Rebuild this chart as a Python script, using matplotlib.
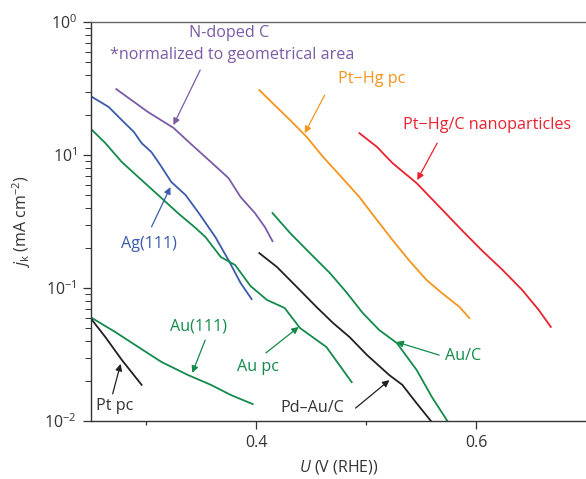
import numpy as np
import matplotlib
matplotlib.use('Agg')
import matplotlib.pyplot as plt
from matplotlib.ticker import FixedLocator, LogLocator, NullFormatter

plt.rcParams['font.family'] = ['Open Sans', 'DejaVu Sans']
plt.rcParams['mathtext.fontset'] = 'custom'
plt.rcParams['mathtext.rm'] = 'Open Sans'
plt.rcParams['mathtext.it'] = 'Open Sans:italic'

# potential U (V vs RHE) and kinetic current j_k (mA cm-2)
ndoped_u = [0.273, 0.302, 0.325, 0.339, 0.359, 0.375, 0.386, 0.399, 0.408, 0.415]
ndoped_j = [3.13, 2.10, 1.60, 1.25, 0.886, 0.671, 0.483, 0.366, 0.288, 0.225]

ag111_u = [0.251, 0.266, 0.278, 0.289, 0.296, 0.305, 0.313, 0.323, 0.336, 0.348, 0.363, 0.375, 0.386, 0.396]
ag111_j = [2.73, 2.30, 1.83, 1.49, 1.23, 1.05, 0.841, 0.627, 0.500, 0.366, 0.242, 0.162, 0.109, 0.0826]

aupc_u = [0.251, 0.263, 0.278, 0.296, 0.314, 0.329, 0.345, 0.354, 0.368, 0.381, 0.395, 0.410,
          0.426, 0.440, 0.464, 0.487]
aupc_j = [1.54, 1.23, 0.886, 0.648, 0.475, 0.366, 0.283, 0.242, 0.171, 0.149, 0.1035, 0.0813,
          0.0708, 0.050, 0.036, 0.0196]

au111_u = [0.251, 0.272, 0.293, 0.314, 0.338, 0.359, 0.377, 0.397]
au111_j = [0.0594, 0.0467, 0.036, 0.0278, 0.0222, 0.0187, 0.0157, 0.0134]

ptpc_u = [0.251, 0.263, 0.278, 0.296]
ptpc_j = [0.0574, 0.0428, 0.0288, 0.0187]

auc_u = [0.415, 0.431, 0.449, 0.467, 0.482, 0.497, 0.512, 0.528, 0.546, 0.560, 0.574]
auc_j = [0.366, 0.259, 0.183, 0.130, 0.0933, 0.0649, 0.0483, 0.0386, 0.0242, 0.0151, 0.0100]

pdauc_u = [0.403, 0.419, 0.437, 0.455, 0.470, 0.485, 0.501, 0.521, 0.533, 0.546, 0.559]
pdauc_j = [0.183, 0.144, 0.102, 0.072, 0.0546, 0.0428, 0.0313, 0.0222, 0.0187, 0.0136, 0.0100]

pthgpc_u = [0.403, 0.415, 0.431, 0.446, 0.461, 0.476, 0.494, 0.510, 0.524, 0.539, 0.555, 0.569,
            0.585, 0.594]
pthgpc_j = [3.08, 2.46, 1.83, 1.37, 0.966, 0.707, 0.483, 0.324, 0.230, 0.162, 0.115, 0.0917,
            0.072, 0.0594]

pthgc_u = [0.494, 0.510, 0.524, 0.546, 0.567, 0.587, 0.605, 0.624, 0.642, 0.657, 0.668]
pthgc_j = [1.46, 1.15, 0.871, 0.615, 0.406, 0.273, 0.193, 0.137, 0.0966, 0.0684, 0.0510]

y_ticks = [1e-2, 1e-1, 1e0, 1e1]
y_tick_labels = [r'$10^{-2}$', r'$10^{-1}$', r'$10^{1}$', r'$10^{0}$']

purple = '#7b5ba6'
blue = '#3a5bab'
green = '#138a4a'
orange = '#f7941d'
red = '#e8222e'
black = '#231f20'

fig = plt.figure(figsize=(5.86, 4.79), dpi=100)
ax = fig.add_axes([0.1553, 0.1211, 0.8447, 0.8329])

lw = 1.3
ax.plot(ndoped_u, ndoped_j, color=purple, lw=lw)
ax.plot(ag111_u, ag111_j, color=blue, lw=lw)
ax.plot(aupc_u, aupc_j, color=green, lw=lw)
ax.plot(au111_u, au111_j, color=green, lw=lw)
ax.plot(ptpc_u, ptpc_j, color=black, lw=lw)
ax.plot(auc_u, auc_j, color=green, lw=lw)
ax.plot(pdauc_u, pdauc_j, color=black, lw=lw)
ax.plot(pthgpc_u, pthgpc_j, color=orange, lw=lw)
ax.plot(pthgc_u, pthgc_j, color=red, lw=lw)

ax.set_yscale('log')
ax.set_xlim(0.25, 0.7)
ax.set_ylim(1e-2, 1e1)

ax.xaxis.set_major_locator(FixedLocator([0.4, 0.6]))
ax.xaxis.set_minor_locator(FixedLocator([0.3, 0.5]))
ax.set_xticklabels(['0.4', '0.6'])
ax.yaxis.set_major_locator(FixedLocator(y_ticks))
ax.set_yticklabels(y_tick_labels)
ax.yaxis.set_minor_locator(LogLocator(base=10, subs=np.arange(2, 10)))
ax.yaxis.set_minor_formatter(NullFormatter())

ax.tick_params(which='major', direction='out', length=6, width=0.9, labelsize=11.5,
               colors='#333333', pad=4)
ax.tick_params(axis='y', which='minor', direction='out', length=4, width=0.7, colors='#333333')
ax.tick_params(axis='x', which='minor', direction='out', length=3, width=0.9, colors='#333333')

ax.spines['right'].set_visible(False)
for side in ['left', 'bottom']:
    ax.spines[side].set_color('#333333')
    ax.spines[side].set_linewidth(1.0)
ax.spines['top'].set_color('#666666')
ax.spines['top'].set_linewidth(1.0)

ax.set_xlabel(r'$\mathit{U}$ (V (RHE))', fontsize=11.5, color='#333333', labelpad=5)
ax.set_ylabel(r'$\mathit{j}_{\rm k}$ (mA cm$^{-2}$)', fontsize=11.5, color='#333333', labelpad=8)

fs = 11.6
arrow = dict(arrowstyle='-|>', lw=0.9, mutation_scale=10, shrinkA=0, shrinkB=0)


def label(text, x, y, color, ha='center'):
    ax.text(x, y, text, fontsize=fs, color=color, ha=ha, va='center')


def pointer(tip, tail, color):
    ax.annotate('', xy=tip, xytext=tail, arrowprops=dict(arrow, color=color))


label('N-doped C', 0.3756, 8.26, purple)
label('*normalized to geometrical area', 0.3783, 5.65, purple)
pointer((0.3249, 1.68), (0.3493, 4.36), purple)

label('Pt\u2212Hg pc', 0.505, 3.73, orange)
pointer((0.4443, 1.46), (0.4624, 2.82), orange)

label('Pt\u2212Hg/C nanoparticles', 0.61, 1.68, red)
pointer((0.5466, 0.648), (0.5647, 1.23), red)

label('Ag(111)', 0.3023, 0.214, blue)
pointer((0.3222, 0.574), (0.305, 0.288), blue)

label('Au(111)', 0.3475, 0.0510, green)
pointer((0.3421, 0.0230), (0.3538, 0.0406), green)

label('Au pc', 0.4018, 0.0255, green)
pointer((0.4389, 0.051), (0.409, 0.0325), green)

label('Au/C', 0.5719, 0.0308, green, ha='left')
pointer((0.5276, 0.0393), (0.5665, 0.0313), green)

label('Pd\u2013Au/C', 0.4507, 0.01253, '#333333')
pointer((0.5213, 0.0203), (0.4905, 0.0125), black)

label('Pt pc', 0.2715, 0.0130, '#333333')
pointer((0.2769, 0.0269), (0.2697, 0.0160), black)

fig.savefig('out.png', dpi=100)
